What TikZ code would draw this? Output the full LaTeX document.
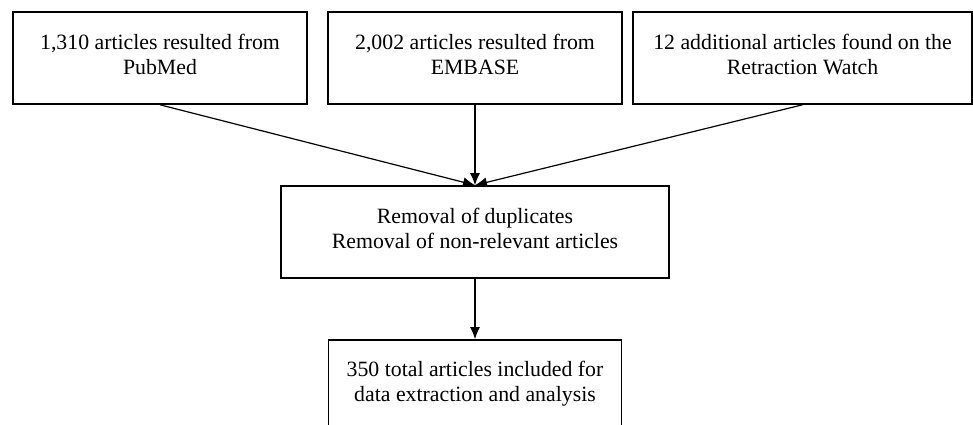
\documentclass[tikz,border=0pt]{standalone}
\usepackage{fontspec}
\setmainfont{Liberation Serif}
\usetikzlibrary{arrows.meta}
\tikzset{
  boxnode/.style={draw=black, line width=1.6pt, rectangle, inner sep=0pt, minimum height=92pt},
  txtnode/.style={anchor=north, align=center, inner sep=0pt, font=\fontsize{21.8}{25}\selectfont},
  conn/.style={draw=black, line width=1.2pt, -{Latex[length=12pt,width=10pt]}}
}
\begin{document}
\begin{tikzpicture}[x=1pt,y=-1pt]
\useasboundingbox (0,0) rectangle (973,425);
\node[boxnode, minimum width=294pt] (b1) at (160,58) {};
\node[boxnode, minimum width=294pt] (b2) at (475,58) {};
\node[boxnode, minimum width=339pt] (b3) at (802.5,58) {};
\node[boxnode, minimum width=388pt] (m) at (475,232) {};
\node[boxnode, minimum width=293pt] (e) at (475,386) {};
\node[txtnode] (t1) at (160,34) {1,310 articles resulted from\\PubMed};
\node[txtnode] (t2) at (475,34) {2,002 articles resulted from\\EMBASE};
\node[txtnode] (t3) at (802.5,34) {12 additional articles found on the\\Retraction Watch};
\node[txtnode] (tm) at (475,208) {Removal of duplicates\\Removal of non-relevant articles};
\node[txtnode] (te) at (475,361) {350 total articles included for\\data extraction and analysis};
\draw[conn] (b1.south) -- (m.north);
\draw[conn] (b2.south) -- (m.north);
\draw[conn] (b3.south) -- (m.north);
\draw[conn] (m.south) -- (e.north);
\end{tikzpicture}
\end{document}
